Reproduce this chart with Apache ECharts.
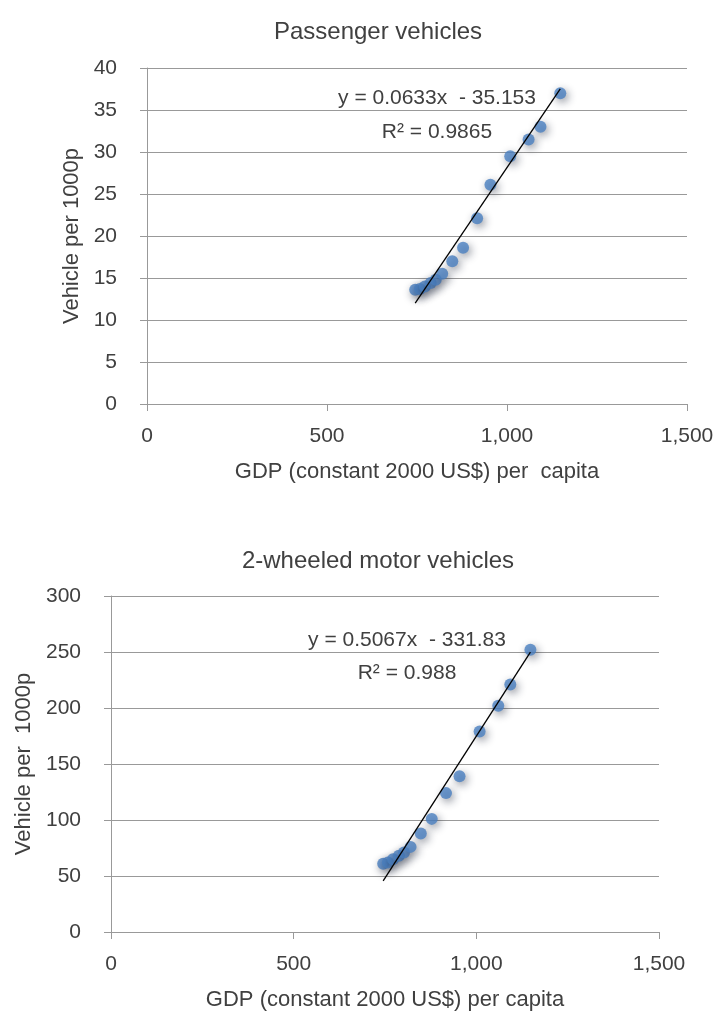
<!DOCTYPE html>
<html>
<head>
<meta charset="utf-8">
<script src="https://cdn.jsdelivr.net/npm/echarts@6/dist/echarts.min.js"></script>
<style>
  html, body { margin: 0; padding: 0; background: #ffffff; }
  #chart { width: 718px; height: 1017px; }
</style>
</head>
<body>
<div id="chart"></div>
<script>
// GDP (constant 2000 US$) per capita, shared by both panels
var gdp = [745, 758, 772, 788, 802, 820, 848, 878, 917, 954, 1009, 1060, 1093, 1148];
// Passenger vehicles per 1000 people
var passenger = [13.6, 13.7, 14.0, 14.4, 14.8, 15.5, 17.0, 18.6, 22.1, 26.1, 29.5, 31.5, 33.0, 37.0];
// 2-wheeled motor vehicles per 1000 people
var twoWheel = [61, 62, 65, 68, 71, 76, 88, 101, 124, 139, 179, 202, 221, 252];

// Linear trendline coefficients shown on the chart
var passengerTrend = [0.0633, -35.153];
var twoWheelTrend = [0.5067, -331.83];

var titles = ['Passenger vehicles', '2-wheeled motor vehicles'];
var xTicks = [0, 500, 1000, 1500];
var yTicksTop = [0, 5, 10, 15, 20, 25, 30, 35, 40];
var yTicksBottom = [0, 50, 100, 150, 200, 250, 300];
var eqTop = ['y = 0.0633x  - 35.153', 'R\u00b2 = 0.9865'];
var eqBottom = ['y = 0.5067x  - 331.83', 'R\u00b2 = 0.988'];

var FONT = '"Liberation Sans", Arial, sans-serif';
var TXT = '#404040';
var GRID = '#999999';

function pairs(xs, ys) { return xs.map(function (x, i) { return [x, ys[i]]; }); }
function trend(coef) {
  var lo = Math.min.apply(null, gdp), hi = Math.max.apply(null, gdp);
  return [[lo, coef[0] * lo + coef[1]], [hi, coef[0] * hi + coef[1]]];
}
function fmt(v) { return v >= 1000 ? String(v).replace(/(\d)(\d{3})$/, '$1,$2') : String(v); }

function xAxis(idx, name) {
  return {
    gridIndex: idx, type: 'value', min: xTicks[0], max: xTicks[xTicks.length - 1], interval: 500,
    name: name, nameLocation: 'middle', nameGap: 57,
    nameTextStyle: { fontFamily: FONT, fontSize: 22, color: TXT },
    axisLine: { show: true, lineStyle: { color: GRID, width: 1 } },
    axisTick: { show: true, length: 7, lineStyle: { color: GRID } },
    axisLabel: { fontFamily: FONT, fontSize: 21, color: TXT, margin: 22, formatter: fmt },
    splitLine: { show: false }
  };
}
function yAxis(idx, ticks, gap) {
  return {
    gridIndex: idx, type: 'value', min: ticks[0], max: ticks[ticks.length - 1], interval: ticks[1] - ticks[0],
    name: idx === 0 ? 'Vehicle per 1000p' : 'Vehicle per  1000p', nameLocation: 'middle', nameGap: gap,
    nameTextStyle: { fontFamily: FONT, fontSize: 22, color: TXT },
    axisLine: { show: true, lineStyle: { color: GRID, width: 1 } },
    axisTick: { show: true, length: 7, lineStyle: { color: GRID } },
    axisLabel: { fontFamily: FONT, fontSize: 21, color: TXT, margin: 30 },
    splitLine: { show: true, lineStyle: { color: GRID, width: 1 } }
  };
}
var markerStyle = {
  color: '#4a7fc1', shadowBlur: 8, shadowColor: 'rgba(20,30,50,0.6)', shadowOffsetX: 2, shadowOffsetY: 3
};
function eqText(lines, cx, y1, y2) {
  return [
    { type: 'text', x: cx, y: y1, z: 10, style: { text: lines[0], font: '21px ' + FONT, fill: TXT, align: 'center', verticalAlign: 'middle' } },
    { type: 'text', x: cx, y: y2, z: 10, style: { text: lines[1], font: '21px ' + FONT, fill: TXT, align: 'center', verticalAlign: 'middle' } }
  ];
}

var chart = echarts.init(document.getElementById('chart'), null, { renderer: 'canvas' });
chart.setOption({
  animation: false,
  backgroundColor: '#ffffff',
  title: [
    { text: titles[0], left: 373, top: 15, textAlign: 'center', textStyle: { fontFamily: FONT, fontSize: 24, fontWeight: 'normal', color: TXT } },
    { text: titles[1], left: 373, top: 544, textAlign: 'center', textStyle: { fontFamily: FONT, fontSize: 24, fontWeight: 'normal', color: TXT } }
  ],
  grid: [
    { left: 147, right: 718 - 687, top: 68, height: 336 },
    { left: 111, right: 718 - 659, top: 596, height: 336 }
  ],
  xAxis: [xAxis(0, 'GDP (constant 2000 US$) per  capita'), xAxis(1, 'GDP (constant 2000 US$) per capita')],
  yAxis: [yAxis(0, yTicksTop, 64), yAxis(1, yTicksBottom, 67)],
  series: [
    { type: 'scatter', xAxisIndex: 0, yAxisIndex: 0, data: pairs(gdp, passenger), symbolSize: 12, itemStyle: markerStyle, z: 3 },
    { type: 'line', xAxisIndex: 0, yAxisIndex: 0, data: trend(passengerTrend), showSymbol: false, symbol: 'none', lineStyle: { color: '#000000', width: 1.3 }, z: 4 },
    { type: 'scatter', xAxisIndex: 1, yAxisIndex: 1, data: pairs(gdp, twoWheel), symbolSize: 12, itemStyle: markerStyle, z: 3 },
    { type: 'line', xAxisIndex: 1, yAxisIndex: 1, data: trend(twoWheelTrend), showSymbol: false, symbol: 'none', lineStyle: { color: '#000000', width: 1.3 }, z: 4 }
  ],
  graphic: eqText(eqTop, 437, 98, 132).concat(eqText(eqBottom, 407, 640, 673))
});
</script>
</body>
</html>
